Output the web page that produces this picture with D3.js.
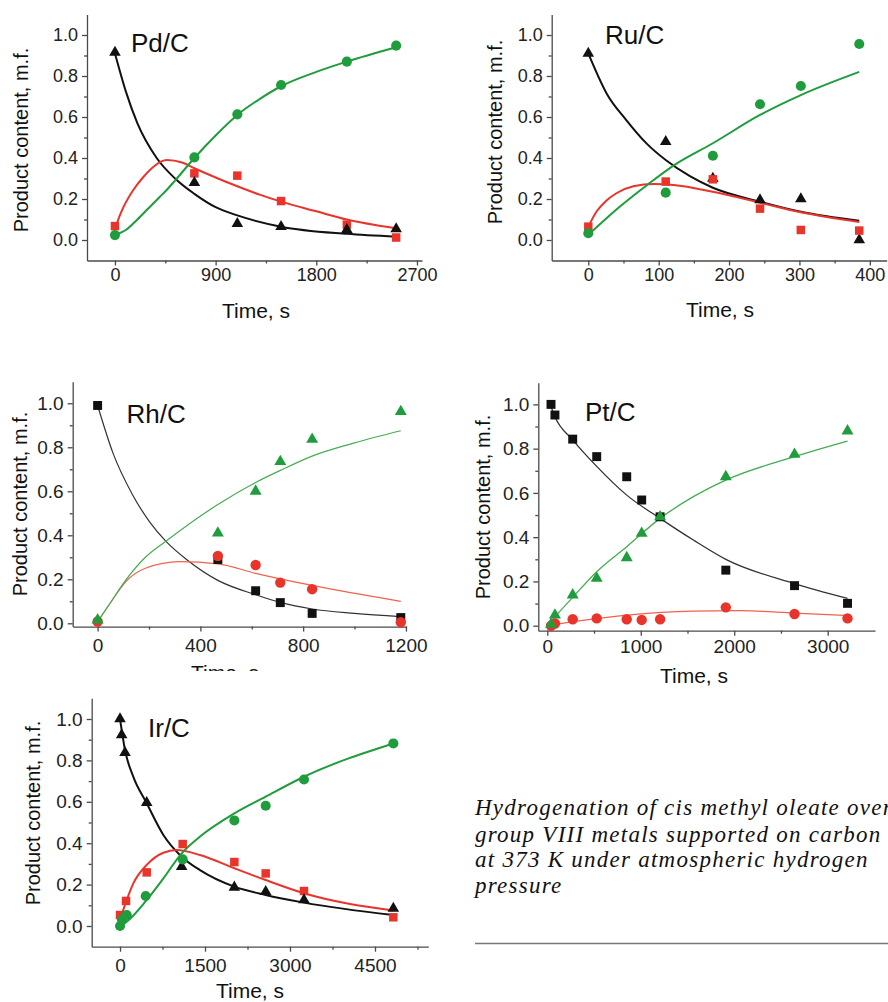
<!DOCTYPE html>
<html>
<head>
<meta charset="utf-8">
<script src="https://cdn.jsdelivr.net/npm/d3@7"></script>
<style>
  body { margin: 0; background: #fff; }
  svg { display: block; }
</style>
</head>
<body>
<svg id="fig" width="888" height="1002"></svg>
<script>
// ---------- Pd/C ----------
const pdTime = [0, 710, 1094, 1485, 2073, 2514];
const pdOleate = [0.915, 0.28, 0.08, 0.065, 0.05, 0.054];
const pdElaidate = [0.068, 0.325, 0.314, 0.19, 0.075, 0.012];
const pdStearate = [0.024, 0.403, 0.613, 0.756, 0.87, 0.948];
const pdOleateFit = [[0, 0.91], [100, 0.72], [200, 0.57], [373, 0.40], [537, 0.30], [710, 0.225], [900, 0.16], [1094, 0.12], [1485, 0.065], [2073, 0.03], [2514, 0.016]];
const pdElaidateFit = [[0, 0.05], [40, 0.115], [80, 0.165], [164, 0.244], [250, 0.305], [350, 0.36], [462, 0.39], [600, 0.378], [710, 0.35], [900, 0.305], [1094, 0.262], [1300, 0.22], [1485, 0.187], [1800, 0.14], [2073, 0.10], [2514, 0.057]];
const pdStearateFit = [[0, 0.025], [100, 0.05], [200, 0.10], [300, 0.155], [400, 0.21], [462, 0.244], [537, 0.29], [710, 0.40], [900, 0.51], [1094, 0.61], [1300, 0.69], [1485, 0.75], [1800, 0.82], [2073, 0.87], [2514, 0.94]];

// ---------- Ru/C ----------
const ruTime = [0, 110, 177, 244, 302, 385];
const ruOleate = [0.91, 0.48, 0.30, 0.195, 0.20, 0.0];
const ruElaidate = [0.065, 0.285, 0.296, 0.153, 0.049, 0.046];
const ruStearate = [0.033, 0.231, 0.411, 0.662, 0.751, 0.956];
const ruOleateFit = [[0, 0.91], [26, 0.715], [54, 0.585], [83, 0.47], [110, 0.39], [145, 0.31], [177, 0.255], [244, 0.187], [302, 0.138], [385, 0.094]];
const ruElaidateFit = [[0, 0.065], [12, 0.14], [25, 0.19], [40, 0.228], [64, 0.262], [93, 0.273], [121, 0.268], [177, 0.235], [244, 0.182], [302, 0.135], [385, 0.088]];
const ruStearateFit = [[0, 0.025], [45, 0.163], [85, 0.272], [121, 0.363], [177, 0.472], [244, 0.61], [302, 0.707], [385, 0.82]];

// ---------- Rh/C ----------
const rhTime = [0, 468, 615, 711, 835, 1180];
const rhOleate = [0.99, 0.29, 0.148, 0.094, 0.045, 0.026];
const rhElaidate = [0.008, 0.306, 0.265, 0.185, 0.155, 0.005];
const rhStearate = [0.015, 0.41, 0.60, 0.735, 0.836, 0.962];
const rhOleateFit = [[0, 0.99], [61, 0.77], [138, 0.58], [203, 0.46], [268, 0.37], [346, 0.29], [468, 0.195], [615, 0.13], [711, 0.095], [835, 0.065], [1000, 0.045], [1180, 0.03]];
const rhElaidateFit = [[0, 0.008], [48, 0.09], [110, 0.19], [186, 0.25], [320, 0.28], [468, 0.27], [615, 0.227], [835, 0.172], [1180, 0.1]];
const rhStearateFit = [[0, 0.008], [48, 0.09], [110, 0.197], [186, 0.30], [268, 0.375], [468, 0.54], [615, 0.64], [711, 0.695], [835, 0.76], [1000, 0.82], [1180, 0.875]];

// ---------- Pt/C ----------
const ptTime = [40, 82, 272, 529, 850, 1010, 1207, 1910, 2645, 3212];
const ptOleate = [1.0, 0.952, 0.843, 0.764, 0.673, 0.568, 0.492, 0.251, 0.181, 0.101];
const ptElaidate = [0.0, 0.01, 0.029, 0.033, 0.029, 0.026, 0.029, 0.083, 0.053, 0.033];
const ptStearate = [0.006, 0.048, 0.139, 0.214, 0.307, 0.417, 0.492, 0.673, 0.774, 0.88];
const ptOleateFit = [[40, 0.99], [82, 0.944], [272, 0.84], [529, 0.72], [850, 0.59], [1207, 0.485], [1563, 0.387], [1910, 0.30], [2645, 0.19], [3212, 0.123]];
const ptElaidateFit = [[0, 0.0], [279, 0.018], [850, 0.048], [1563, 0.066], [2063, 0.068], [2645, 0.057], [3212, 0.046]];
const ptStearateFit = [[0, 0.0], [82, 0.04], [272, 0.128], [529, 0.244], [850, 0.357], [1207, 0.485], [1563, 0.583], [1910, 0.658], [2645, 0.764], [3212, 0.834]];

// ---------- Ir/C ----------
const irOleateTime = [0, 29, 88, 471, 1088, 2018, 2571, 3247, 4824];
const irOleate = [1.0, 0.923, 0.837, 0.596, 0.287, 0.187, 0.166, 0.126, 0.085];
const irElaidateTime = [0, 106, 471, 1106, 2018, 2571, 3247, 4824];
const irElaidate = [0.053, 0.121, 0.259, 0.396, 0.309, 0.254, 0.169, 0.042];
const irStearateTime = [0, 35, 118, 453, 1106, 2018, 2571, 3247, 4824];
const irStearate = [0.0, 0.03, 0.053, 0.145, 0.322, 0.51, 0.581, 0.708, 0.882];
const irOleateFit = [[0, 1.0], [88, 0.85], [235, 0.72], [471, 0.593], [765, 0.44], [1088, 0.335], [1412, 0.27], [2018, 0.19], [2571, 0.15], [3247, 0.113], [4824, 0.053]];
const irElaidateFit = [[0, 0.029], [118, 0.126], [235, 0.206], [471, 0.295], [765, 0.354], [1000, 0.367], [1412, 0.343], [2018, 0.279], [2571, 0.222], [3247, 0.158], [4824, 0.075]];
const irStearateFit = [[0, 0.0], [118, 0.021], [471, 0.126], [765, 0.23], [1088, 0.351], [1412, 0.432], [2018, 0.544], [2571, 0.625], [3247, 0.721], [4824, 0.882]];

// ---------- axis ticks and labels ----------
const yMajorTicks = [0, 0.2, 0.4, 0.6, 0.8, 1.0];
const yMinorTicks = [0.1, 0.3, 0.5, 0.7, 0.9];
const pdXTicks = [0, 900, 1800, 2700], pdXMinor = [450, 1350, 2250];
const ruXTicks = [0, 100, 200, 300, 400], ruXMinor = [50, 150, 250, 350];
const rhXTicks = [0, 400, 800, 1200], rhXMinor = [200, 600, 1000];
const ptXTicks = [0, 1000, 2000, 3000], ptXMinor = [500, 1500, 2500];
const irXTicks = [0, 1500, 3000, 4500], irXMinor = [750, 2250, 3750, 5250];
const panelTitles = ["Pd/C", "Ru/C", "Rh/C", "Pt/C", "Ir/C"];
const xAxisTitle = "Time, s";
const yAxisTitle = "Product content, m.f.";
const captionLines = [
  "Hydrogenation of cis methyl oleate over",
  "group VIII metals supported on carbon",
  "at 373 K under atmospheric hydrogen",
  "pressure"
];

// ---------- styling ----------
const GREEN = "#1f9c3b", RED = "#e8342b", BLACK = "#111";
const FONT = "'Liberation Sans', Arial, sans-serif";

const svg = d3.select("#fig");
svg.append("rect").attr("width", 888).attr("height", 1002).attr("fill", "#fff");

const defs = svg.append("defs");
defs.append("clipPath").attr("id", "clip-rh")
  .append("rect").attr("x", 0).attr("y", 340).attr("width", 440).attr("height", 331);

// Panel frames: pixel ranges of each plot, fonts and stroke widths
const frames = [
  { title: panelTitles[0], xDom: [-250, 2745], xRange: [87, 422], yDom: [-0.1, 1.1], yRange: [260.5, 14.5],
    xTicks: pdXTicks, xMinor: pdXMinor, tickFs: 18, xPad: 3, yPad: 4,
    titlePos: [131, 51.5], yTitle: [28, 140], xTitle: [256, 318], lw: 2,
    lineColors: [BLACK, RED, GREEN],
    series: [
      { t: pdTime, v: pdElaidate, sym: d3.symbolSquare, size: 72, color: RED },
      { t: pdTime, v: pdOleate, sym: d3.symbolTriangle, size: 58, color: BLACK },
      { t: pdTime, v: pdStearate, sym: d3.symbolCircle, size: 80, color: GREEN }
    ],
    fits: [pdOleateFit, pdElaidateFit, pdStearateFit] },
  { title: panelTitles[1], xDom: [-52, 424], xRange: [551.7, 886.7], yDom: [-0.1, 1.1], yRange: [260.5, 14.5],
    xTicks: ruXTicks, xMinor: ruXMinor, tickFs: 18, xPad: 3, yPad: 4,
    titlePos: [605, 43.5], yTitle: [501.5, 132], xTitle: [720, 317], lw: 2,
    lineColors: [BLACK, RED, GREEN],
    series: [
      { t: ruTime, v: ruOleate, sym: d3.symbolTriangle, size: 58, color: BLACK },
      { t: ruTime, v: ruElaidate, sym: d3.symbolSquare, size: 72, color: RED },
      { t: ruTime, v: ruStearate, sym: d3.symbolCircle, size: 80, color: GREEN }
    ],
    fits: [ruOleateFit, ruElaidateFit, ruStearateFit] },
  { title: panelTitles[2], xDom: [-97, 1203], xRange: [72.7, 406.7], yDom: [-0.015, 1.098], yRange: [626.6, 381.7],
    xTicks: rhXTicks, xMinor: rhXMinor, tickFs: 19, xPad: 6.5, yPad: 4,
    titlePos: [126.5, 423], yTitle: [26.5, 504], xTitle: [225, 680], lw: 1.2, clip: "url(#clip-rh)",
    lineColors: ["#333", "#f0624c", "#44ad52"],
    series: [
      { t: rhTime, v: rhOleate, sym: d3.symbolSquare, size: 80, color: BLACK },
      { t: rhTime, v: rhElaidate, sym: d3.symbolCircle, size: 85, color: RED },
      { t: rhTime, v: rhStearate, sym: d3.symbolTriangle, size: 62, color: GREEN }
    ],
    fits: [rhOleateFit, rhElaidateFit, rhStearateFit] },
  { title: panelTitles[3], xDom: [-96, 3506], xRange: [538.3, 875], yDom: [-0.0226, 1.098], yRange: [630.7, 382.7],
    xTicks: ptXTicks, xMinor: ptXMinor, tickFs: 19, xPad: 4.3, yPad: 4,
    titlePos: [585, 421], yTitle: [490, 507], xTitle: [694, 683], lw: 1.3,
    lineColors: ["#333", "#f0624c", "#44ad52"],
    series: [
      { t: ptTime, v: ptOleate, sym: d3.symbolSquare, size: 80, color: BLACK },
      { t: ptTime, v: ptElaidate, sym: d3.symbolCircle, size: 85, color: RED },
      { t: ptTime, v: ptStearate, sym: d3.symbolTriangle, size: 62, color: GREEN }
    ],
    fits: [ptOleateFit, ptElaidateFit, ptStearateFit] },
  { title: panelTitles[4], xDom: [-500, 5441], xRange: [91.7, 428.3], yDom: [-0.1, 1.1], yRange: [946.7, 698.3],
    xTicks: irXTicks, xMinor: irXMinor, tickFs: 19, xPad: 6.5, yPad: 4,
    titlePos: [148, 736.5], yTitle: [40, 813], xTitle: [250, 998], lw: 2,
    lineColors: [BLACK, RED, GREEN],
    series: [
      { t: irElaidateTime, v: irElaidate, sym: d3.symbolSquare, size: 72, color: RED },
      { t: irOleateTime, v: irOleate, sym: d3.symbolTriangle, size: 58, color: BLACK },
      { t: irStearateTime, v: irStearate, sym: d3.symbolCircle, size: 80, color: GREEN }
    ],
    fits: [irOleateFit, irElaidateFit, irStearateFit] }
];

frames.forEach(f => {
  const g = svg.append("g");
  if (f.clip) g.attr("clip-path", f.clip);
  const x = d3.scaleLinear().domain(f.xDom).range(f.xRange);
  const y = d3.scaleLinear().domain(f.yDom).range(f.yRange);
  const x0 = f.xRange[0], y0 = f.yRange[0];

  // minor ticks
  g.append("g").attr("transform", `translate(0,${y0})`)
    .call(d3.axisBottom(x).tickValues(f.xMinor).tickSize(3).tickFormat(""))
    .call(a => a.select(".domain").remove());
  g.append("g").attr("transform", `translate(${x0},0)`)
    .call(d3.axisLeft(y).tickValues(yMinorTicks).tickSize(3).tickFormat(""))
    .call(a => a.select(".domain").remove());

  // major axes
  const xa = g.append("g").attr("transform", `translate(0,${y0})`)
    .call(d3.axisBottom(x).tickValues(f.xTicks).tickSize(5).tickSizeOuter(0).tickPadding(f.xPad).tickFormat(d3.format("d")));
  const ya = g.append("g").attr("transform", `translate(${x0},0)`)
    .call(d3.axisLeft(y).tickValues(yMajorTicks).tickSize(5).tickSizeOuter(0).tickPadding(f.yPad).tickFormat(d3.format(".1f")));
  [xa, ya].forEach(a => {
    a.selectAll("path, line").attr("stroke", "#4a4a4a").attr("stroke-width", 1.3);
    a.selectAll("text").attr("font-family", FONT).attr("font-size", f.tickFs).attr("fill", "#222");
  });
  g.selectAll("line").attr("stroke", "#4a4a4a").attr("stroke-width", 1.3);

  // fitted curves
  const line = d3.line().x(d => x(d[0])).y(d => y(d[1])).curve(d3.curveMonotoneX);
  f.fits.forEach((fit, i) => {
    g.append("path").attr("d", line(fit)).attr("fill", "none")
      .attr("stroke", f.lineColors[i]).attr("stroke-width", f.lw);
  });

  // measured points
  f.series.forEach(s => {
    const sym = d3.symbol().type(s.sym).size(s.size);
    g.append("g").selectAll("path").data(s.t.map((t, i) => [t, s.v[i]])).join("path")
      .attr("transform", d => `translate(${x(d[0])},${y(d[1])})`)
      .attr("d", sym).attr("fill", s.color);
  });

  // panel title
  g.append("text").attr("x", f.titlePos[0]).attr("y", f.titlePos[1])
    .attr("font-family", FONT).attr("font-size", 26).attr("fill", "#111").text(f.title);

  // axis titles
  g.append("text").attr("x", f.xTitle[0]).attr("y", f.xTitle[1]).attr("text-anchor", "middle")
    .attr("font-family", FONT).attr("font-size", 21).attr("fill", "#111").text(xAxisTitle);
  g.append("text").attr("transform", `translate(${f.yTitle[0]},${f.yTitle[1]}) rotate(-90)`)
    .attr("text-anchor", "middle").attr("font-family", FONT).attr("font-size", 20).attr("fill", "#111")
    .text(yAxisTitle);
});

// caption: italic serif, letter-spaced so the first phrase spans 365 px
const cap = svg.append("g");
const capFont = "'Liberation Serif', 'Times New Roman', serif";
const capSize = 23;
const probeText = "Hydrogenation of cis methyl oleate";
const probe = cap.append("text").attr("font-family", capFont).attr("font-style", "italic")
  .attr("font-size", capSize).text(probeText);
const capSpacing = Math.max(0, (365 - probe.node().getComputedTextLength()) / probeText.length);
probe.remove();
const capBaselines = [815, 841.5, 867, 893];
captionLines.forEach((t, i) => {
  cap.append("text").attr("x", 475).attr("y", capBaselines[i])
    .attr("font-family", capFont).attr("font-style", "italic").attr("font-size", capSize)
    .attr("letter-spacing", capSpacing).attr("fill", "#111").text(t);
});
cap.append("line").attr("x1", 475).attr("x2", 888).attr("y1", 943.5).attr("y2", 943.5)
  .attr("stroke", "#777").attr("stroke-width", 1.5);
</script>
</body>
</html>
